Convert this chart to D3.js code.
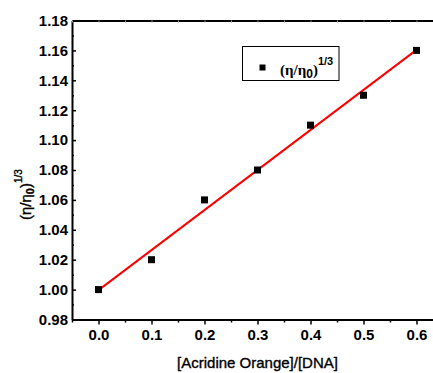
<!DOCTYPE html>
<html><head><meta charset="utf-8">
<script src="https://cdn.jsdelivr.net/npm/d3@7"></script>
<style>body{margin:0;background:#fff}svg{display:block}</style>
</head><body>
<svg id="c" width="433" height="373"></svg>
<script>
const ratios = [0.0, 0.1, 0.2, 0.3, 0.4, 0.5, 0.6];
const viscosity = [1.00, 1.02, 1.06, 1.08, 1.11, 1.13, 1.16];
const xTicks = [0.0, 0.1, 0.2, 0.3, 0.4, 0.5, 0.6];
const yTicks = [0.98, 1.00, 1.02, 1.04, 1.06, 1.08, 1.10, 1.12, 1.14, 1.16, 1.18];

const svg = d3.select("#c");
const x = d3.scaleLinear().domain([-0.05, 0.65]).range([72, 443]);
const y = d3.scaleLinear().domain([0.98, 1.18]).range([319.5, 20.5]);

// least squares fit
const mx = d3.mean(ratios), my = d3.mean(viscosity);
let sxy = 0, sxx = 0;
ratios.forEach((v,i)=>{ sxy += (v-mx)*(viscosity[i]-my); sxx += (v-mx)*(v-mx); });
const slope = sxy/sxx, icpt = my - slope*mx;

const xMinor = d3.range(-0.05, 0.651, 0.05).map(v=>+v.toFixed(2)).filter(v=>!xTicks.some(t=>Math.abs(t-v)<1e-6));
const yMinor = d3.range(0.99, 1.18, 0.02).map(v=>+v.toFixed(2));

// bottom axis
const gx = svg.append("g").attr("transform","translate(0,319.5)")
  .call(d3.axisBottom(x).tickValues(xTicks).tickFormat(d3.format(".1f")).tickSizeInner(5).tickSizeOuter(0).tickPadding(5));
gx.select(".domain").attr("stroke","#000").attr("stroke-width",2);
gx.selectAll(".tick line").attr("stroke","#000").attr("stroke-width",1.5);
gx.selectAll("text").attr("font-family","Liberation Sans, Arial, sans-serif").attr("font-weight","bold").attr("font-size",15).attr("fill","#000");
svg.append("g").attr("transform","translate(0,319.5)")
  .call(d3.axisBottom(x).tickValues(xMinor).tickFormat("").tickSizeInner(3).tickSizeOuter(0))
  .call(g=>{g.select(".domain").remove(); g.selectAll("line").attr("stroke","#000").attr("stroke-width",1.5);});

// left axis (ticks inward)
const gy = svg.append("g").attr("transform","translate(72,0)")
  .call(d3.axisLeft(y).tickValues(yTicks).tickFormat(d3.format(".2f")).tickSizeInner(-4).tickSizeOuter(0).tickPadding(4));
gy.select(".domain").attr("stroke","#000").attr("stroke-width",2);
gy.selectAll(".tick line").attr("stroke","#000").attr("stroke-width",1.5);
gy.selectAll("text").attr("x",-4).attr("font-family","Liberation Sans, Arial, sans-serif").attr("font-weight","bold").attr("font-size",15).attr("fill","#000");
svg.append("g").attr("transform","translate(72,0)")
  .call(d3.axisLeft(y).tickValues(yMinor).tickFormat("").tickSizeInner(-2).tickSizeOuter(0))
  .call(g=>{g.select(".domain").remove(); g.selectAll("line").attr("stroke","#000").attr("stroke-width",1.5);});

// top axis (inward ticks)
const gt = svg.append("g").attr("transform","translate(0,20.5)")
  .call(d3.axisTop(x).tickValues(xTicks.concat(xMinor)).tickFormat("").tickSizeInner(-2).tickSizeOuter(0));
gt.select(".domain").attr("stroke","#000").attr("stroke-width",2);
gt.selectAll(".tick line").attr("stroke","#999").attr("stroke-width",1);

// fit line
const x0 = 0, x1 = 0.6;
svg.append("line")
  .attr("x1", x(x0)-1).attr("y1", y(icpt + slope*x0)+0.7)
  .attr("x2", x(x1)).attr("y2", y(icpt + slope*x1))
  .attr("stroke","#ff0000").attr("stroke-width",2);

// points
svg.append("g").selectAll("rect").data(ratios).join("rect")
  .attr("x",(d)=>x(d)-3.5).attr("y",(d,i)=>y(viscosity[i])-3.5)
  .attr("width",7).attr("height",7).attr("fill","#000");

// legend
svg.append("rect").attr("x",242.5).attr("y",46.5).attr("width",96.5).attr("height",34)
  .attr("fill","#fff").attr("stroke","#000").attr("stroke-width",1);
svg.append("rect").attr("x",259.5).attr("y",64.5).attr("width",6).attr("height",6).attr("fill","#000");
const lt = svg.append("text").attr("x",280).attr("y",75).attr("font-family","Liberation Serif, Times New Roman, serif").attr("font-weight","bold").attr("font-size",15).attr("fill","#000");
lt.append("tspan").text("(η/η");
lt.append("tspan").attr("dy",3).attr("font-size",12).attr("font-family","Liberation Sans, Arial, sans-serif").attr("font-weight","bold").text("0");
lt.append("tspan").attr("dy",-3).text(")");
lt.append("tspan").attr("dy",-10).attr("font-size",11).attr("font-family","Liberation Sans, Arial, sans-serif").attr("font-weight","bold").text("1/3");

// x title
svg.append("text").attr("x",257.5).attr("y",368).attr("text-anchor","middle")
  .attr("font-family","Liberation Sans, Arial, sans-serif").attr("font-size",15).attr("fill","#000")
  .attr("stroke","#000").attr("stroke-width",0.35)
  .text("[Acridine Orange]/[DNA]");

// y title
const yt = svg.append("text").attr("transform","translate(31,220) rotate(-90)")
  .attr("font-family","Liberation Sans, Arial, sans-serif").attr("font-size",15).attr("fill","#000")
  .attr("stroke","#000").attr("stroke-width",0.35);
yt.append("tspan").text("(η/η");
yt.append("tspan").attr("dy",3).attr("font-size",11).attr("font-weight","bold").text("0");
yt.append("tspan").attr("dy",-3).text(")");
yt.append("tspan").attr("dy",-9).attr("font-size",10).text("1/3");
</script>
</body></html>
